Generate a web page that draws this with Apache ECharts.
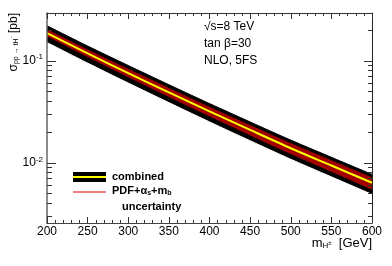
<!DOCTYPE html>
<html><head><meta charset="utf-8">
<script src="https://cdn.jsdelivr.net/npm/echarts@6/dist/echarts.min.js"></script>
<style>html,body{margin:0;padding:0;background:#fff}#c{width:392px;height:266px}</style>
</head><body><div id="c"></div>
<script>
const masses = [200, 250, 300, 350, 400, 450, 500, 550, 600];
const central = [0.187, 0.118, 0.0757, 0.049, 0.0319, 0.0210, 0.0139, 0.0094, 0.00637];
const combinedUp = [0.2205, 0.1396, 0.0899, 0.0583, 0.0381, 0.02516, 0.01669, 0.01133, 0.00770];
const combinedLow = [0.1513, 0.0949, 0.0605, 0.0389, 0.02517, 0.01646, 0.01083, 0.00728, 0.00490];
const pdfUp = [0.2014, 0.1277, 0.0824, 0.0536, 0.0350, 0.02318, 0.01542, 0.01047, 0.00713];
const pdfLow = [0.1720, 0.1075, 0.0682, 0.0437, 0.0282, 0.01835, 0.01204, 0.00806, 0.00540];
const yMajorTicks = [0.01, 0.1];
const yMinorTicks = [0.003, 0.004, 0.005, 0.006, 0.007, 0.008, 0.009, 0.02, 0.03, 0.04, 0.05, 0.06, 0.07, 0.08, 0.09, 0.2];
const xMin = 200, xMax = 600, xStep = 50;
const yMin = 0.00257, yMax = 0.294;

const FONT = 'Liberation Sans, Arial, Helvetica, sans-serif';
const pairs = arr => masses.map((m, i) => [m, arr[i]]);

const chart = echarts.init(document.getElementById('c'), null, {renderer: 'canvas'});

function xAx(pos, labels) {
  return {
    type: 'value', position: pos, min: xMin, max: xMax, interval: xStep, z: 10,
    axisLine: {show: true, onZero: false, lineStyle: {color: pos === 'bottom' ? '#444' : '#333', width: 1}},
    axisTick: {show: true, inside: true, length: 6, lineStyle: {color: '#333'}},
    minorTick: {show: true, splitNumber: 5, length: 3, lineStyle: {color: '#333'}},
    axisLabel: {show: labels, color: '#000', fontSize: 12, fontFamily: FONT, margin: 3},
    splitLine: {show: false}
  };
}
function yAx(pos, vals, len, labels, line) {
  return {
    type: 'log', logBase: 10, position: pos, min: yMin, max: yMax, z: 10,
    axisLine: {show: line, onZero: false, lineStyle: {color: pos === 'left' ? '#666' : '#222', width: pos === 'left' ? 1.5 : 1}},
    axisTick: {show: true, inside: true, length: len, customValues: vals, lineStyle: {color: '#333'}},
    minorTick: {show: false},
    axisLabel: {
      show: labels, customValues: vals, margin: 4, fontFamily: FONT,
      formatter: v => '{b|10}{s|' + Math.round(Math.log10(v)) + '}',
      rich: {b: {fontSize: 12, color: '#000', fontFamily: FONT}, s: {fontSize: 8, color: '#000', fontFamily: FONT, padding: [0, 0, 7, 0]}}
    },
    splitLine: {show: false}
  };
}

function area(name, data, color, z) {
  return {
    name, type: 'line', data, symbol: 'none', smooth: 0.3, z,
    lineStyle: {color, width: 1}, areaStyle: {color, opacity: 1, origin: 'start'},
    silent: true, animation: false
  };
}

chart.setOption({
  animation: false,
  backgroundColor: '#fff',
  grid: {left: 47, right: 20, top: 13, height: 210, containLabel: false},
  xAxis: [xAx('bottom', true), xAx('top', false)],
  yAxis: [
    yAx('left', yMajorTicks, 9, true, true),
    yAx('left', yMinorTicks, 5, false, false),
    yAx('right', yMajorTicks, 8, false, true),
    yAx('right', yMinorTicks, 4, false, false)
  ],
  series: [
    area('combinedUp', pairs(combinedUp), '#000000', 2),
    area('pdfUp', pairs(pdfUp), '#a00000', 3),
    area('pdfLow', pairs(pdfLow), '#000000', 4),
    area('combinedLow', pairs(combinedLow), '#ffffff', 5),
    {name: 'central', type: 'line', data: pairs(central), symbol: 'none', smooth: 0.3, z: 6,
     lineStyle: {color: '#ffff00', width: 2}, silent: true}
  ],
  graphic: [
    {type: 'text', x: 204, y: 27, z: 20, style: {text: '√s=8 TeV', font: '12px ' + FONT, fill: '#000', verticalAlign: 'middle'}},
    {type: 'text', x: 204, y: 44, z: 20, style: {text: 'tan β=30', font: '12px ' + FONT, fill: '#000', verticalAlign: 'middle'}},
    {type: 'text', x: 204, y: 61, z: 20, style: {text: 'NLO, 5FS', font: '12px ' + FONT, fill: '#000', verticalAlign: 'middle'}},
    {type: 'rect', z: 20, shape: {x: 73, y: 172, width: 33, height: 10}, style: {fill: '#000'}},
    {type: 'line', z: 21, shape: {x1: 73, y1: 177, x2: 106, y2: 177}, style: {stroke: '#ffff00', lineWidth: 2}},
    {type: 'line', z: 21, shape: {x1: 73, y1: 192, x2: 106, y2: 192}, style: {stroke: '#dd0000', lineWidth: 1.2}},
    {type: 'text', x: 112, y: 177, z: 20, style: {text: 'combined', font: 'bold 11px ' + FONT, fill: '#000', verticalAlign: 'middle'}},
    {type: 'text', x: 112, y: 191, z: 20, style: {
      text: '{t|PDF+α}{s|s}{t|+m}{s|b}', verticalAlign: 'middle',
      rich: {t: {font: 'bold 11px ' + FONT, fill: '#000'}, s: {font: 'bold 7px ' + FONT, fill: '#000', padding: [4, 0, 0, 0]}}
    }},
    {type: 'text', x: 122, y: 207, z: 20, style: {text: 'uncertainty', font: 'bold 11px ' + FONT, fill: '#000', verticalAlign: 'middle'}},
    {type: 'text', x: 14, y: 13, rotation: Math.PI / 2, z: 20, style: {
      text: '{a|σ}{b|pp → tH}{c|⁻} {a|[pb]}', align: 'right', verticalAlign: 'middle',
      rich: {a: {font: '12px ' + FONT, fill: '#000'}, b: {font: '7px ' + FONT, fill: '#000', padding: [5, 0, 0, 0]}, c: {font: '6px ' + FONT, fill: '#000', padding: [0, 0, 2, 0]}}
    }},
    {type: 'text', x: 372, y: 243, z: 20, style: {
      text: '{a|m}{b|H}{c|±}{a|  [GeV]}', align: 'right', verticalAlign: 'middle',
      rich: {a: {font: '13px ' + FONT, fill: '#000'}, b: {font: '8px ' + FONT, fill: '#000', padding: [6, 0, 0, 0]}, c: {font: '6px ' + FONT, fill: '#000', padding: [0, 0, 0, 0]}}
    }}
  ]
});
</script></body></html>
